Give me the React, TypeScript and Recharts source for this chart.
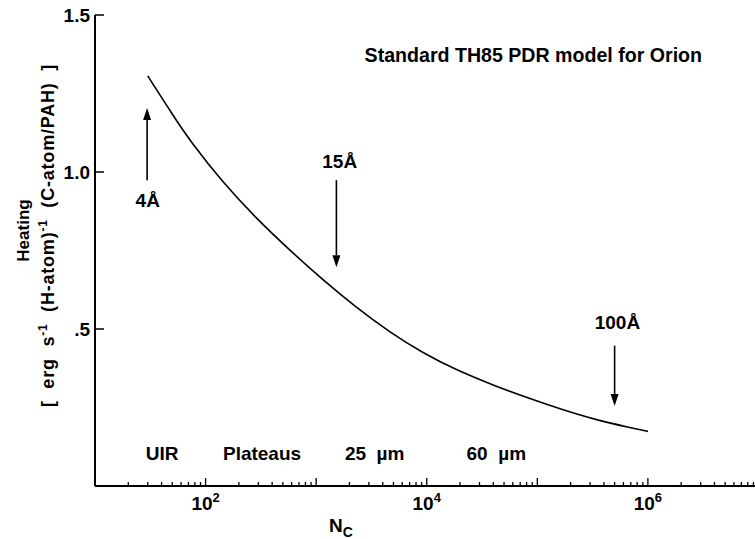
import React from 'react';
import { LineChart, Line, XAxis, YAxis, ReferenceLine, ReferenceDot } from 'recharts';

// Curve: heating vs number of carbon atoms
const nC = [30, 51, 72, 144, 288, 576, 1153, 2311, 4627, 9264, 18600, 39800, 85500, 171400, 343600, 687000, 1000000];
const heating = [1.306, 1.179, 1.1, 0.965, 0.852, 0.751, 0.656, 0.568, 0.49, 0.423, 0.369, 0.321, 0.278, 0.242, 0.21, 0.186, 0.174];

// Axes
const X_MIN = 10;
const X_MAX = 9.3e6;
const xDecades = [10, 100, 1000, 10000, 100000, 1000000];
const xMantissas = [1, 2, 3, 4, 5, 6, 7, 8, 9];
const xLabelExponents = [2, 4, 6];
const yTicks = [0.5, 1.0, 1.5];
const yTickLabels = ['.5', '1.0', '1.5'];

// Annotations
const arrowLabels = ['4Å', '15Å', '100Å'];
const arrowN = [29.6, 1524, 500000];
const arrowFrom = [0.974, 0.974, 0.447];
const arrowTo = [1.204, 0.697, 0.255];
const arrowLabelN = [30, 1633, 530000];
const arrowLabelY = [0.889, 1.013, 0.5];

const bandLabels = ['UIR', 'Plateaus', '25  µm', '60  µm'];
const bandN = [40.4, 324, 3380, 42560];
const bandY = 0.083;

const titleText = 'Standard TH85 PDR model for Orion';
const titleN = 92000;
const titleY = 1.351;

const FONT = '"Liberation Sans", Arial, Helvetica, sans-serif';

const xTicks: number[] = [];
xDecades.forEach((d) => xMantissas.forEach((m) => {
  const v = d * m;
  if (v >= X_MIN && v <= X_MAX) xTicks.push(v);
}));

const data = nC.map((n, i) => ({ n, h: heating[i] }));

const XTick = (props: any) => {
  const { x, y, payload, top } = props;
  const v = payload.value as number;
  const lg = Math.log10(v);
  const exp = Math.round(lg);
  const isMajor = Math.abs(lg - exp) < 1e-9;
  const len = isMajor ? 8 : 4;
  const dir = top ? 1 : -1;
  return (
    <g>
      <line x1={x} y1={y} x2={x} y2={y + dir * len} stroke="#000" strokeWidth={1.3} />
      {!top && isMajor && xLabelExponents.includes(exp) && (
        <text x={x} y={y + 24} textAnchor="middle" fontFamily={FONT} fontWeight="bold" fontSize={19} fill="#000">
          10<tspan dy={-8} fontSize={13}>{exp}</tspan>
        </text>
      )}
    </g>
  );
};

const YTick = (props: any) => {
  const { x, y, payload } = props;
  const idx = yTicks.indexOf(payload.value);
  return (
    <g>
      <line x1={x} y1={y} x2={x + 9} y2={y} stroke="#000" strokeWidth={1.5} />
      <text x={x - 5} y={y} dy={7} textAnchor="end" fontFamily={FONT} fontWeight="bold" fontSize={19} fill="#000">
        {yTickLabels[idx]}
      </text>
    </g>
  );
};

const renderYLabel = (p: any) => {
  const vb = p.viewBox || { x: 0, y: 15, width: 95, height: 471 };
  const cy = vb.y + vb.height / 2 - 20;
  const x1 = vb.x + 29;
  const x2 = vb.x + 54;
  return (
    <g fontFamily={FONT} fontWeight="bold" fill="#000">
      <text transform={`rotate(-90, ${x1}, ${cy})`} x={x1} y={cy} textAnchor="middle" fontSize={17}>Heating</text>
      <text transform={`rotate(-90, ${x2}, ${cy + 5})`} x={x2} y={cy + 5} textAnchor="middle" fontSize={18} letterSpacing={0.8} style={{ whiteSpace: 'pre' }}>
        {'[  erg  s'}<tspan dy={-7} fontSize={12}>-1</tspan><tspan dy={7}>{'  (H-atom)'}</tspan><tspan dy={-7} fontSize={12}>-1</tspan><tspan dy={7}>{'  (C-atom/PAH)  ]'}</tspan>
      </text>
    </g>
  );
};

const renderXLabel = (p: any) => {
  const vb = p.viewBox || { x: 95, y: 486, width: 660, height: 53 };
  const x = vb.x + 234;
  const y = vb.y + 46;
  return (
    <text x={x} y={y} fontFamily={FONT} fontWeight="bold" fontSize={19} fill="#000">
      N<tspan dy={5} fontSize={14}>C</tspan>
    </text>
  );
};

const Arrow = (props: any) => {
  const { x1, y1, x2, y2 } = props;
  const dir = y2 > y1 ? 1 : -1;
  const headLen = 12;
  const headW = 4;
  return (
    <g>
      <line x1={x1} y1={y1} x2={x2} y2={y2 - dir * headLen} stroke="#000" strokeWidth={1.6} />
      <polygon points={`${x2},${y2} ${x2 - headW},${y2 - dir * headLen} ${x2 + headW},${y2 - dir * headLen}`} fill="#000" />
    </g>
  );
};

const makeText = (txt: string, size = 19) => (p: any) => (
  <text x={p.cx} y={p.cy} textAnchor="middle" fontFamily={FONT} fontWeight="bold" fontSize={size} fill="#000" style={{ whiteSpace: 'pre' }}>
    {txt}
  </text>
);

export default function App() {
  return (
    <div style={{ position: 'absolute', left: 0, top: 0, width: 755, height: 539, background: '#fff' }}>
      <LineChart width={755} height={539} data={data} margin={{ top: 15, right: 0, bottom: 0, left: 0 }}>
        <XAxis
          dataKey="n"
          type="number"
          scale="log"
          domain={[X_MIN, X_MAX]}
          allowDataOverflow
          ticks={xTicks}
          interval={0}
          height={53}
          tickSize={0}
          tickMargin={0}
          tickLine={false}
          axisLine={{ stroke: '#000', strokeWidth: 2 }}
          tick={(p: any) => <XTick {...p} />}
          label={{ content: renderXLabel }}
        />
        <XAxis
          xAxisId="top"
          orientation="top"
          dataKey="n"
          type="number"
          scale="log"
          domain={[X_MIN, X_MAX]}
          allowDataOverflow
          ticks={xTicks}
          interval={0}
          height={0}
          tickSize={0}
          tickMargin={0}
          tickLine={false}
          axisLine={{ stroke: '#000', strokeWidth: 2 }}
          tick={(p: any) => <XTick {...p} top />}
        />
        <YAxis
          type="number"
          domain={[0, 1.5]}
          ticks={yTicks}
          interval={0}
          width={95}
          tickSize={0}
          tickMargin={0}
          tickLine={false}
          axisLine={{ stroke: '#000', strokeWidth: 2 }}
          tick={(p: any) => <YTick {...p} />}
          label={{ content: renderYLabel }}
        />
        <Line type="basis" dataKey="h" stroke="#000" strokeWidth={1.6} dot={false} isAnimationActive={false} />
        {arrowN.map((n, i) => (
          <ReferenceLine
            key={'a' + i}
            segment={[{ x: n, y: arrowFrom[i] }, { x: n, y: arrowTo[i] }]}
            shape={(p: any) => <Arrow {...p} />}
          />
        ))}
        {arrowLabels.map((t, i) => (
          <ReferenceDot key={'al' + i} x={arrowLabelN[i]} y={arrowLabelY[i]} r={1} shape={makeText(t)} />
        ))}
        {bandLabels.map((t, i) => (
          <ReferenceDot key={'b' + i} x={bandN[i]} y={bandY} r={1} shape={makeText(t)} />
        ))}
        <ReferenceDot x={titleN} y={titleY} r={1} shape={makeText(titleText, 19.6)} />
      </LineChart>
    </div>
  );
}
